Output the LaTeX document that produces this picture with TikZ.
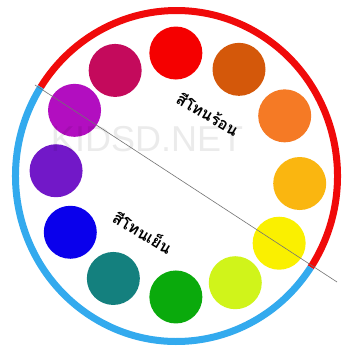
\documentclass[tikz,border=0pt]{standalone}
\usepackage{fontspec}
\usetikzlibrary{calc}
\newfontfamily\thaifont[Script=Thai]{Loma}
\newfontfamily\markfont{Liberation Sans}
\definecolor{ringred}{RGB}{240,10,10}
\definecolor{ringblue}{RGB}{51,170,238}
\definecolor{cRed}{RGB}{245,0,0}
\definecolor{cRust}{RGB}{212,88,10}
\definecolor{cOrange}{RGB}{245,122,37}
\definecolor{cAmber}{RGB}{250,182,16}
\definecolor{cYellow}{RGB}{250,240,0}
\definecolor{cLime}{RGB}{208,244,26}
\definecolor{cGreen}{RGB}{10,170,12}
\definecolor{cTeal}{RGB}{20,128,126}
\definecolor{cBlue}{RGB}{10,0,236}
\definecolor{cViolet}{RGB}{114,24,200}
\definecolor{cPurple}{RGB}{178,14,192}
\definecolor{cCrimson}{RGB}{196,10,92}
\begin{document}
\begin{tikzpicture}[x=1pt, y=1pt]
			\useasboundingbox (-176.5,-171) rectangle (167.5,176);
			\fill[white] (-176.5,-171) rectangle (167.5,176);
			\draw[ringred, line width=7pt] ({161*cos(-33.5)},{165.5*sin(-33.5)})
				arc[start angle=-33.5, end angle=147.5, x radius=161, y radius=165.5];
			\draw[ringblue, line width=7pt] ({161*cos(147.5)},{165.5*sin(147.5)})
				arc[start angle=147.5, end angle=326.5, x radius=161, y radius=165.5];
			\foreach \a/\c in {91/cRed, 60/cRust, 29/cOrange, -4/cAmber, -34/cYellow, -62/cLime,
					-91/cGreen, -122/cTeal, -152/cBlue, 178/cViolet, 148/cPurple, 121/cCrimson} {
					\fill[\c] ($(1.5,1)+(\a:122)$) circle (26.5);
				}
			\coordinate (split start) at (-141.5,91);
			\coordinate (split end) at (160.5,-106);
			\draw[black!55, line width=0.6pt] (split start) -- (split end);
			\node[rotate=-31, font=\thaifont\bfseries\fontsize{16}{19}\selectfont] (hot) at (31.5,62) {สีโทนร้อน};
			\node[rotate=-31, font=\thaifont\bfseries\fontsize{16}{19}\selectfont] (cool) at (-33.5,-56) {สีโทนเย็น};
			\node[black, opacity=0.08, font=\markfont\fontsize{36}{40}\selectfont] (mark) at (-29.5,37) {KIDSD.NET};
		\end{tikzpicture}
\end{document}
